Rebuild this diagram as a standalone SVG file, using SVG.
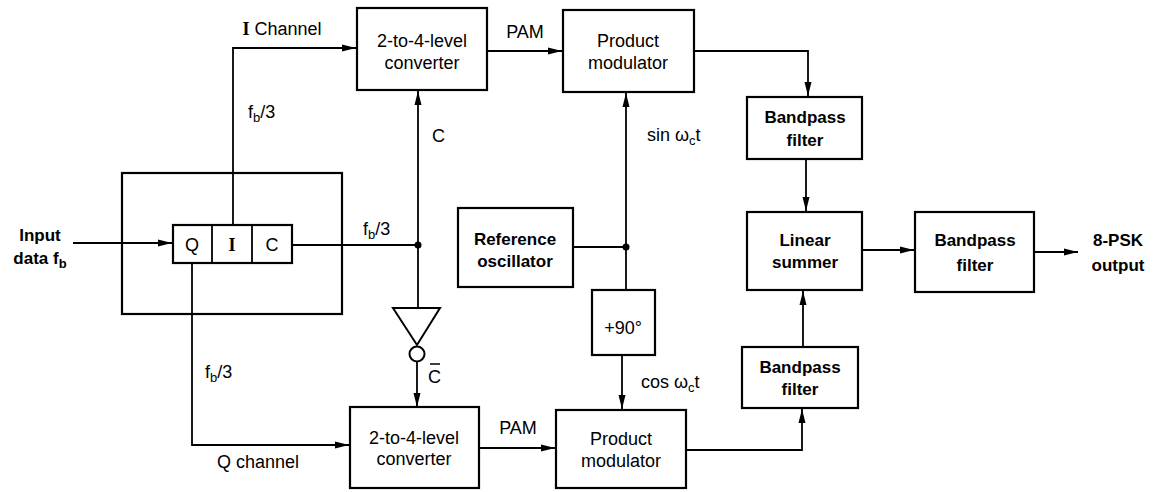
<svg xmlns="http://www.w3.org/2000/svg" width="1154" height="492" viewBox="0 0 1154 492">
<defs>
<marker id="arr" viewBox="0 0 14 8" refX="14" refY="4" markerWidth="14" markerHeight="8" markerUnits="userSpaceOnUse" orient="auto">
<path d="M0,0.5 L14,4 L0,7.5 z" fill="#000"/>
</marker>
<style>
.box{fill:#fff;stroke:#000;stroke-width:2.2}
.ln{fill:none;stroke:#000;stroke-width:1.8}
.t{font-family:"Liberation Sans",Arial,sans-serif;font-size:18px;fill:#000;text-anchor:middle}
.b{font-weight:bold;font-size:17px}
.l{text-anchor:start}
.sub{font-size:13px}
.serif{font-family:"Liberation Serif","Times New Roman",serif;font-weight:bold}
</style>
</defs>
<rect width="1154" height="492" fill="#fff"/>
<g id="connectors">
<path class="ln" d="M73,243 H172" marker-end="url(#arr)"/>
<path class="ln" d="M233,225 V48 H356" marker-end="url(#arr)"/>
<path class="ln" d="M192,263 V445 H349" marker-end="url(#arr)"/>
<path class="ln" d="M292,245 H418"/>
<path class="ln" d="M418,245 V91" marker-end="url(#arr)"/>
<path class="ln" d="M418,245 V308"/>
<path class="ln" d="M417,362 V407" marker-end="url(#arr)"/>
<path class="ln" d="M487,51 H562" marker-end="url(#arr)"/>
<path class="ln" d="M479,448 H555" marker-end="url(#arr)"/>
<path class="ln" d="M573,247 H626"/>
<path class="ln" d="M626,247 V93" marker-end="url(#arr)"/>
<path class="ln" d="M626,247 V290"/>
<path class="ln" d="M622,355 V409" marker-end="url(#arr)"/>
<path class="ln" d="M694,51 H808 V96" marker-end="url(#arr)"/>
<path class="ln" d="M806,159 V211" marker-end="url(#arr)"/>
<path class="ln" d="M686,450 H802 V409" marker-end="url(#arr)"/>
<path class="ln" d="M803,347 V291" marker-end="url(#arr)"/>
<path class="ln" d="M862,250 H914" marker-end="url(#arr)"/>
<path class="ln" d="M1034,252 H1078" marker-end="url(#arr)"/>
<circle cx="418" cy="245" r="3.5" fill="#000"/>
<circle cx="626" cy="247" r="3.5" fill="#000"/>
</g>
<g id="splitter">
<rect x="122" y="173" width="220" height="141" fill="none" stroke="#000" stroke-width="2.2"/>
<rect class="box" x="173" y="225" width="119" height="38"/>
<line class="ln" x1="212" y1="225" x2="212" y2="263" stroke-width="2"/>
<line class="ln" x1="252" y1="225" x2="252" y2="263" stroke-width="2"/>
<text class="t" x="192" y="251">Q</text>
<text class="t serif" x="232" y="251">I</text>
<text class="t" x="272" y="251">C</text>
</g>
<g id="input-label">
<text class="t b" x="40" y="241">Input</text>
<text class="t b" x="40" y="264">data f<tspan class="sub" dy="4">b</tspan></text>
</g>
<g id="conv-top">
<rect class="box" x="357" y="8" width="130" height="82"/>
<text class="t" x="422" y="47">2-to-4-level</text>
<text class="t" x="422" y="69">converter</text>
</g>
<g id="conv-bot">
<rect class="box" x="350" y="407" width="129" height="81"/>
<text class="t" x="414" y="444">2-to-4-level</text>
<text class="t" x="414" y="465">converter</text>
</g>
<g id="inverter">
<path d="M393,308 L440,308 L417,345 z" fill="#fff" stroke="#000" stroke-width="2"/>
<circle cx="417" cy="354" r="7.5" fill="#fff" stroke="#000" stroke-width="2"/>
</g>
<g id="prod-top">
<rect class="box" x="563" y="10" width="131" height="82"/>
<text class="t" x="628" y="47">Product</text>
<text class="t" x="628" y="69">modulator</text>
</g>
<g id="prod-bot">
<rect class="box" x="556" y="410" width="130" height="78"/>
<text class="t" x="621" y="445">Product</text>
<text class="t" x="621" y="467">modulator</text>
</g>
<g id="ref-osc">
<rect class="box" x="458" y="208" width="115" height="79"/>
<text class="t b" x="515" y="245">Reference</text>
<text class="t b" x="515" y="267">oscillator</text>
</g>
<g id="phase">
<rect class="box" x="592" y="290" width="63" height="65"/>
<text class="t" x="623" y="334">+90°</text>
</g>
<g id="bpf-top">
<rect class="box" x="747" y="97" width="115" height="62"/>
<text class="t b" x="805" y="123">Bandpass</text>
<text class="t b" x="805" y="146">filter</text>
</g>
<g id="summer">
<rect class="box" x="747" y="212" width="115" height="78"/>
<text class="t b" x="805" y="246">Linear</text>
<text class="t b" x="805" y="268">summer</text>
</g>
<g id="bpf-bot">
<rect class="box" x="742" y="347" width="116" height="61"/>
<text class="t b" x="800" y="373">Bandpass</text>
<text class="t b" x="800" y="395">filter</text>
</g>
<g id="bpf-out">
<rect class="box" x="915" y="212" width="119" height="80"/>
<text class="t b" x="975" y="246">Bandpass</text>
<text class="t b" x="975" y="271">filter</text>
</g>
<g id="labels">
<text class="t" x="282" y="35"><tspan class="serif">I</tspan> Channel</text>
<text class="t l" x="248" y="118">f<tspan class="sub" dy="4">b</tspan><tspan dy="-4">/3</tspan></text>
<text class="t l" x="363" y="235">f<tspan class="sub" dy="4">b</tspan><tspan dy="-4">/3</tspan></text>
<text class="t l" x="205" y="378">f<tspan class="sub" dy="4">b</tspan><tspan dy="-4">/3</tspan></text>
<text class="t" x="258" y="468">Q channel</text>
<text class="t" x="525" y="38">PAM</text>
<text class="t" x="518" y="434">PAM</text>
<text class="t l" x="432" y="142">C</text>
<text class="t l" x="428" y="383">C</text>
<line x1="430" y1="364" x2="440" y2="364" stroke="#000" stroke-width="1.5"/>
<text class="t l" x="647" y="141">sin ω<tspan class="sub" dy="4">c</tspan><tspan dy="-4">t</tspan></text>
<text class="t l" x="641" y="388">cos ω<tspan class="sub" dy="4">c</tspan><tspan dy="-4">t</tspan></text>
<text class="t b" x="1118" y="246">8-PSK</text>
<text class="t b" x="1118" y="271">output</text>
</g>
</svg>
